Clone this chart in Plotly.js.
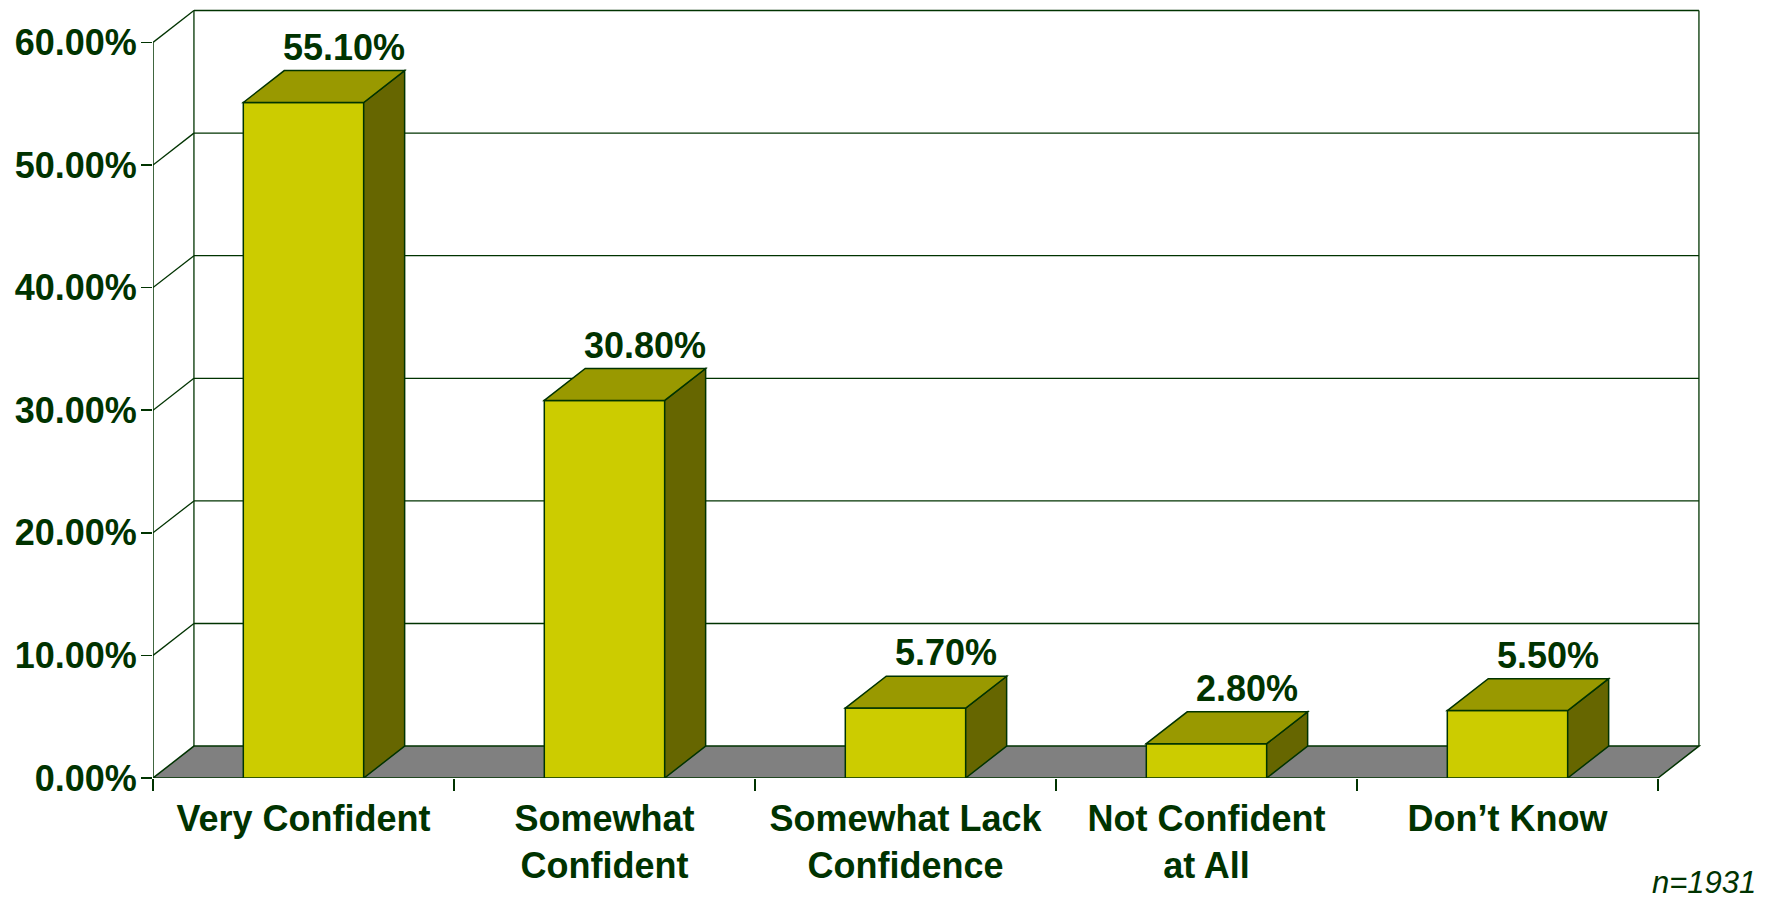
<!DOCTYPE html>
<html>
<head>
<meta charset="utf-8">
<script src="https://cdn.plot.ly/plotly-3.0.1.min.js"></script>
<style>html,body{margin:0;padding:0;background:#fff;}#chart{width:1779px;height:903px;}</style>
</head>
<body>
<div id="chart"></div>
<script>
// ---- data ----
const categories = ['Very Confident', 'Somewhat<br>Confident', 'Somewhat Lack<br>Confidence', 'Not Confident<br>at All', 'Don\u2019t Know'];
const values = [55.1, 30.8, 5.7, 2.8, 5.5];
const yTicks = [0, 10, 20, 30, 40, 50, 60];
const yTickText = yTicks.map(t => t.toFixed(2) + '%');
const sampleNote = 'n=1931';

// ---- style / geometry ----
const DARK = '#003300';
const FRONT = '#CCCC00', TOP = '#999900', SIDE = '#666600', FLOOR = '#808080';
const BAR_W = 0.4, DX = 0.136, DY = 2.6;
const idx = values.map((v, i) => i);
const X0 = -0.5, X1 = categories.length - 0.5;
const YMAX = yTicks[yTicks.length - 1];
const FONT = 'Liberation Sans, Arial, Helvetica, sans-serif';
const FS = 36;

const shapes = [];
// floor
shapes.push({type: 'path', xref: 'x', yref: 'y', layer: 'below',
  path: `M${X0},0 L${X1},0 L${X1 + DX},${DY} L${X0 + DX},${DY} Z`,
  fillcolor: FLOOR, line: {color: DARK, width: 1.5}});
// back wall gridlines and left wall diagonals
yTicks.forEach(t => {
  if (t > 0) {
    shapes.push({type: 'line', xref: 'x', yref: 'y', layer: 'below',
      x0: X0 + DX, x1: X1 + DX, y0: t + DY, y1: t + DY, line: {color: DARK, width: 1.3}});
    shapes.push({type: 'line', xref: 'x', yref: 'y', layer: 'below',
      x0: X0, x1: X0 + DX, y0: t, y1: t + DY, line: {color: DARK, width: 1.3}});
  }
});
// back wall vertical edges
[X0 + DX, X1 + DX].forEach(xv => {
  shapes.push({type: 'line', xref: 'x', yref: 'y', layer: 'below',
    x0: xv, x1: xv, y0: DY, y1: YMAX + DY, line: {color: DARK, width: 1.3}});
});
// front value axis line
shapes.push({type: 'line', xref: 'x', yref: 'y', layer: 'below',
  x0: X0, x1: X0, y0: 0, y1: YMAX, line: {color: DARK, width: 1.5}});

// 3D bar top and side faces
idx.forEach(i => {
  const v = values[i];
  const l = i - BAR_W / 2, r = i + BAR_W / 2;
  shapes.push({type: 'path', xref: 'x', yref: 'y', layer: 'above',
    path: `M${r},0 L${r + DX},${DY} L${r + DX},${v + DY} L${r},${v} Z`,
    fillcolor: SIDE, line: {color: DARK, width: 1.5}});
  shapes.push({type: 'path', xref: 'x', yref: 'y', layer: 'above',
    path: `M${l},${v} L${l + DX},${v + DY} L${r + DX},${v + DY} L${r},${v} Z`,
    fillcolor: TOP, line: {color: DARK, width: 1.5}});
});

const annotations = idx.map(i => ({
  x: i + DX, y: values[i] + DY, xref: 'x', yref: 'y',
  text: values[i].toFixed(2) + '%', showarrow: false,
  xanchor: 'center', yanchor: 'bottom', yshift: 1,
  font: {family: FONT, size: FS, color: DARK, weight: 'bold'}
}));
annotations.push({
  xref: 'paper', yref: 'paper', x: 1.037, y: -0.1605, xanchor: 'right', yanchor: 'bottom',
  text: '<i>' + sampleNote + '</i>', showarrow: false,
  font: {family: FONT, size: 31, color: DARK}
});

const trace = {
  type: 'bar', x: idx, y: values, width: BAR_W,
  marker: {color: FRONT, line: {color: DARK, width: 1.5}},
  hoverinfo: 'x+y'
};

const minorTicks = [];
for (let k = 0; k <= categories.length; k++) minorTicks.push(k - 0.5);

const layout = {
  width: 1779, height: 903,
  margin: {l: 153, r: 78, t: 8, b: 125},
  paper_bgcolor: '#fff', plot_bgcolor: '#fff',
  showlegend: false,
  font: {family: FONT, color: DARK},
  xaxis: {
    type: 'linear', range: [X0, X0 + 1548 / 301],
    tickmode: 'array', tickvals: idx, ticktext: categories,
    ticks: '', showgrid: false, zeroline: false, showline: false,
    ticklabelstandoff: 16,
    tickfont: {family: FONT, size: FS, color: DARK, weight: 'bold'},
    minor: {tickmode: 'array', tickvals: minorTicks, ticks: 'outside', ticklen: 12, tickwidth: 1.5, tickcolor: DARK, showgrid: false},
    fixedrange: true
  },
  yaxis: {
    range: [0, 770 / 12.26],
    tickmode: 'array', tickvals: yTicks, ticktext: yTickText,
    ticks: 'outside', ticklen: 11, tickwidth: 1.5, tickcolor: DARK,
    ticklabelstandoff: -3,
    showgrid: false, zeroline: false, showline: false,
    tickfont: {family: FONT, size: FS, color: DARK, weight: 'bold'},
    fixedrange: true
  },
  shapes: shapes,
  annotations: annotations
};

Plotly.newPlot('chart', [trace], layout, {displayModeBar: false, staticPlot: true});
</script>
</body>
</html>
